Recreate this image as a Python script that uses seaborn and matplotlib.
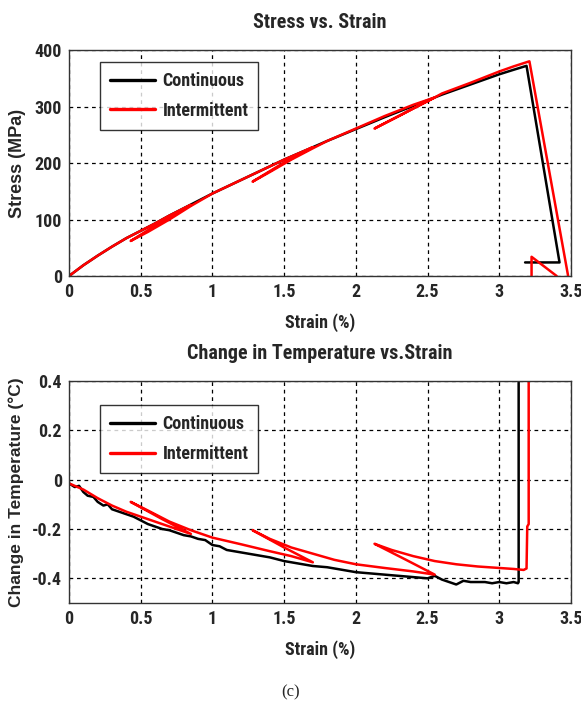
import numpy as np
import pandas as pd
import matplotlib
matplotlib.use("Agg")
import matplotlib.pyplot as plt
from matplotlib import font_manager as fm
import seaborn as sns

# ---------------- data ----------------
cont_strain = [0, 0.1, 0.2, 0.3, 0.4, 0.5, 0.6, 0.7, 0.8, 0.9, 1.0, 1.2, 1.4, 1.5, 1.7,
               1.8, 2.0, 2.2, 2.4, 2.5, 2.6, 2.8, 3.0, 3.1, 3.19, 3.42, 3.18]
cont_stress = [0, 19, 36, 52, 67, 80, 93, 107, 120, 133, 146, 170, 194, 206, 228,
               239, 260, 281, 301, 311, 321, 339, 357, 365, 372, 24, 24]

int_strain = [0, 0.1, 0.2, 0.3, 0.4, 0.5, 0.6, 0.7, 0.85,
              0.65, 0.43, 0.55, 0.7, 0.85, 1.0, 1.2, 1.4, 1.5, 1.7,
              1.5, 1.28, 1.4, 1.55, 1.7, 1.8, 2.0, 2.2, 2.4, 2.55,
              2.35, 2.13, 2.3, 2.45, 2.55, 2.6, 2.8, 3.0, 3.1, 3.21, 3.48,
              3.40, 3.225, 3.225]
int_stress = [0, 19, 36, 52, 67, 80, 93, 107, 126,
              97, 62, 78, 100, 124, 146, 170, 194, 206, 228,
              201, 167, 184, 206, 226, 239, 261, 283, 303, 316,
              290, 261, 283, 303, 316, 323, 342, 362, 371, 380, 0,
              0, 34, 0]
int_seg = [0] * 40 + [1, 1, 1]

tc_strain = [0, 0.04, 0.07, 0.1, 0.13, 0.17, 0.2, 0.24, 0.27, 0.3, 0.35, 0.4, 0.45,
             0.5, 0.55, 0.6, 0.65, 0.7, 0.75, 0.8, 0.85, 0.9, 0.95, 1.0, 1.05,
             1.1, 1.2, 1.3, 1.4, 1.5, 1.6, 1.65, 1.7, 1.8, 1.9, 2.0, 2.1, 2.2,
             2.3, 2.4, 2.5, 2.55, 2.6, 2.65, 2.7, 2.75, 2.8, 2.9, 2.95, 3.0,
             3.05, 3.1, 3.13, 3.135, 3.135]
tc_temp = [-0.015, -0.03, -0.025, -0.05, -0.065, -0.07, -0.09, -0.105, -0.1, -0.12,
           -0.13, -0.14, -0.15, -0.165, -0.18, -0.19, -0.2, -0.205, -0.215, -0.225,
           -0.23, -0.24, -0.245, -0.265, -0.27, -0.285, -0.295, -0.305, -0.315, -0.33,
           -0.34, -0.345, -0.35, -0.355, -0.365, -0.375, -0.38, -0.385, -0.39, -0.395,
           -0.4, -0.39, -0.405, -0.415, -0.425, -0.41, -0.415, -0.415, -0.42, -0.415,
           -0.42, -0.415, -0.42, -0.415, 0.45]

ti_strain = [0, 0.1, 0.2, 0.3, 0.4, 0.5, 0.6, 0.7, 0.85,
             0.65, 0.43,
             0.55, 0.7, 0.85, 1.0, 1.2, 1.4, 1.55, 1.7,
             1.5, 1.28,
             1.4, 1.55, 1.7, 1.85, 2.0, 2.2, 2.4, 2.55,
             2.35, 2.13,
             2.25, 2.4, 2.55, 2.7, 2.85, 3.0, 3.1, 3.17, 3.19, 3.195, 3.205, 3.205]
ti_temp = [-0.015, -0.04, -0.075, -0.105, -0.13, -0.15, -0.17, -0.19, -0.22,
           -0.16, -0.09,
           -0.125, -0.17, -0.205, -0.235, -0.262, -0.29, -0.31, -0.335,
           -0.275, -0.205,
           -0.24, -0.275, -0.3, -0.325, -0.343, -0.358, -0.372, -0.385,
           -0.325, -0.26,
           -0.285, -0.31, -0.33, -0.343, -0.352, -0.358, -0.362, -0.366, -0.36, -0.19,
           -0.18, 0.45]

x_ticks = [0, 0.5, 1, 1.5, 2, 2.5, 3, 3.5]
x_tick_labels = ["0", "0.5", "1", "1.5", "2", "2.5", "3", "3.5"]
stress_ticks = [0, 100, 200, 300, 400]
temp_ticks = [-0.4, -0.2, 0, 0.2, 0.4]
temp_tick_labels = ["-0.4", "-0.2", "0", "0.2", "0.4"]
series_names = ["Continuous", "Intermittent"]

# ---------------- style ----------------
sns.set_style("white")

available = {f.name for f in fm.fontManager.ttflist}
narrow_pref = ["Liberation Sans Narrow", "DejaVu Sans Condensed", "Roboto Condensed",
               "Open Sans Condensed", "Noto Sans Condensed", "Arial Narrow"]
narrow_found = [n for n in narrow_pref if n in available]
if not narrow_found:
    narrow_found = [n for n in sorted(available)
                    if ("Narrow" in n or "Condensed" in n)]
narrow = (narrow_found[:1] if narrow_found else []) + ["Liberation Sans", "DejaVu Sans"]
NARROW = bool(narrow_found)

plt.rcParams["font.family"] = narrow
plt.rcParams["font.weight"] = "bold"

palette = {"Continuous": "black", "Intermittent": "red"}

fig = plt.figure(figsize=(5.81, 7.09), dpi=100)
W, H = 581, 709
ax1 = fig.add_axes([69 / W, 1 - 276 / H, 502 / W, 226 / H])
ax2 = fig.add_axes([69 / W, 1 - 603 / H, 502 / W, 222 / H])

df1 = pd.concat([
    pd.DataFrame({"strain": cont_strain, "val": cont_stress, "series": series_names[0],
                  "seg": 0}),
    pd.DataFrame({"strain": int_strain, "val": int_stress, "series": series_names[1],
                  "seg": [10 + s for s in int_seg]}),
], ignore_index=True)

df2 = pd.concat([
    pd.DataFrame({"strain": tc_strain, "val": tc_temp, "series": series_names[0],
                  "seg": 0}),
    pd.DataFrame({"strain": ti_strain, "val": ti_temp, "series": series_names[1],
                  "seg": 10}),
], ignore_index=True)

tick_size = 13 if NARROW else 11.5
title_size = 14.5 if NARROW else 13
legend_size = 13 if NARROW else 11.5


def style_axes(ax, ylim, yticks, yticklabels, title, ylabel, ylabel_size):
    ax.set_xlim(0, 3.5)
    ax.set_ylim(*ylim)
    ax.set_xticks(x_ticks)
    ax.set_xticklabels(x_tick_labels)
    ax.set_yticks(yticks)
    ax.set_yticklabels(yticklabels)
    ax.tick_params(axis="both", labelsize=tick_size, length=0, pad=5)
    for lab in ax.get_xticklabels() + ax.get_yticklabels():
        lab.set_fontweight("bold")
    ax.grid(True, color="black", linestyle=(0, (3, 3)), linewidth=0.9)
    for sp in ax.spines.values():
        sp.set_color("#333333")
        sp.set_linewidth(1.0)
        sp.set_visible(True)
    ax.set_title(title, fontsize=title_size, fontweight="bold", pad=16)
    ax.set_xlabel("Strain (%)", fontsize=tick_size, fontweight="bold", labelpad=9)
    ax.set_ylabel(ylabel, fontsize=ylabel_size, fontweight="bold",
                  family=["Liberation Sans", "DejaVu Sans"], labelpad=6)


for ax, df in [(ax1, df1), (ax2, df2)]:
    sns.lineplot(data=df, x="strain", y="val", hue="series", units="seg",
                 estimator=None, sort=False, palette=palette, linewidth=1.8, ax=ax,
                 hue_order=series_names)

style_axes(ax1, (0, 400), stress_ticks, [str(t) for t in stress_ticks],
           "Stress vs. Strain", "Stress (MPa)", 13)
style_axes(ax2, (-0.5, 0.4), temp_ticks, temp_tick_labels,
           "Change in Temperature vs.Strain", "Change in Temperature (°C)", 12.5)

for ax, top in [(ax1, 0.947), (ax2, 0.89)]:
    leg = ax.legend(loc="upper left", bbox_to_anchor=(0.062, top), frameon=True,
                    fancybox=False, edgecolor="black", fontsize=legend_size,
                    handlelength=2.5, borderpad=0.55, labelspacing=0.65,
                    handletextpad=0.4, borderaxespad=0)
    leg.get_frame().set_linewidth(1.0)
    for t in leg.get_texts():
        t.set_fontweight("bold")
    for l in leg.get_lines():
        l.set_linewidth(2.4)

fig.text(0.5, 1 - 692 / H, "(c)", ha="center", va="center", fontsize=12,
         fontweight="normal", family=["Liberation Serif", "DejaVu Serif"])

fig.savefig("out.png", dpi=100, facecolor="white")
